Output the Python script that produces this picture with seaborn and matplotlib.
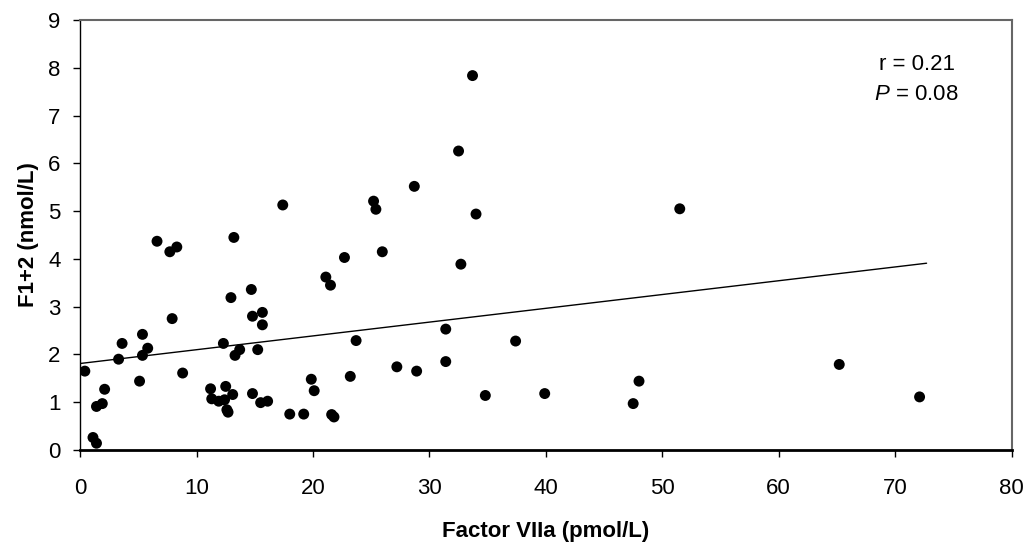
import pandas as pd
import matplotlib
matplotlib.use("Agg")
import matplotlib.pyplot as plt
import seaborn as sns

# values
factor_viia = [0.4, 1.1, 1.4, 1.4, 1.9, 2.1, 3.3, 3.6, 5.1, 5.35,
               5.35, 5.8, 6.6, 7.7, 8.3, 7.9, 8.8, 11.2, 11.3, 11.9,
               12.5, 12.4, 13.1, 12.6, 12.7, 12.3, 12.95, 13.2, 13.3, 13.7,
               14.7, 14.8, 15.65, 15.65, 15.25, 14.8, 15.5, 16.1, 17.4, 18.0,
               19.2, 19.85, 20.1, 21.6, 21.8, 21.1, 21.5, 22.7, 23.2, 23.7,
               25.2, 25.4, 25.95, 27.2, 28.7, 28.9, 31.4, 31.4, 32.7, 32.5,
               33.7, 34.0, 37.4, 34.8, 39.9, 48.0, 47.5, 51.5, 65.2, 72.1]
f12 = [1.65, 0.26, 0.14, 0.91, 0.97, 1.27, 1.90, 2.23, 1.44, 2.42,
       1.98, 2.13, 4.37, 4.15, 4.25, 2.75, 1.61, 1.28, 1.07, 1.02,
       1.33, 1.05, 1.16, 0.84, 0.79, 2.23, 3.19, 4.45, 1.98, 2.10,
       3.36, 2.80, 2.88, 2.62, 2.10, 1.18, 0.99, 1.02, 5.13, 0.75,
       0.75, 1.48, 1.24, 0.74, 0.69, 3.62, 3.45, 4.03, 1.54, 2.29,
       5.21, 5.04, 4.15, 1.74, 5.52, 1.65, 2.53, 1.85, 3.89, 6.26,
       7.84, 4.94, 2.28, 1.14, 1.18, 1.44, 0.97, 5.05, 1.79, 1.11]

# trend line as drawn in the reference
trend_x = [0, 72.7]
trend_y = [1.81, 3.91]

df = pd.DataFrame({"factor_viia": factor_viia, "f12": f12})
trend = pd.DataFrame({"x": trend_x, "y": trend_y})

sns.set_style("white")
plt.rcParams["font.family"] = ["Liberation Sans", "DejaVu Sans"]
plt.rcParams["mathtext.fontset"] = "custom"
plt.rcParams["mathtext.rm"] = "Liberation Sans"
plt.rcParams["mathtext.it"] = "Liberation Sans:italic"
plt.rcParams["text.color"] = "black"
plt.rcParams["axes.labelcolor"] = "black"
plt.rcParams["xtick.color"] = "black"
plt.rcParams["ytick.color"] = "black"

fig, ax = plt.subplots(figsize=(10.28, 5.46), dpi=100)
fig.subplots_adjust(left=0.078, right=0.984, top=0.963, bottom=0.176)

sns.scatterplot(data=df, x="factor_viia", y="f12", color="black",
                s=62, edgecolor="none", ax=ax, zorder=3)
sns.lineplot(data=trend, x="x", y="y", color="black", linewidth=1.0, ax=ax)

ax.set_xlim(0, 80)
ax.set_ylim(0, 9)
ax.set_xticks(range(0, 81, 10))
ax.set_yticks(range(0, 10))
ax.tick_params(axis="both", direction="out", length=5, width=1,
               color="black", labelsize=16, left=True, bottom=True)
ax.tick_params(axis="x", pad=15)
ax.tick_params(axis="y", pad=9)

ax.set_xlabel("Factor VIIa (pmol/L)", fontsize=16, fontweight="bold", labelpad=16)
ax.set_ylabel("F1+2 (nmol/L)", fontsize=16, fontweight="bold", labelpad=7)

for side in ["left", "bottom"]:
    ax.spines[side].set_color("black")
ax.spines["left"].set_linewidth(1.0)
ax.spines["bottom"].set_linewidth(2.0)
for side in ["top", "right"]:
    ax.spines[side].set_color("#666666")
    ax.spines[side].set_linewidth(1.5)

ax.text(0.898, 0.898, "r = 0.21", transform=ax.transAxes, fontsize=16,
        ha="center", va="center")
ax.text(0.898, 0.826, "$\\it{P}$ = 0.08", transform=ax.transAxes, fontsize=16,
        ha="center", va="center")

fig.savefig("out.png", dpi=100)
